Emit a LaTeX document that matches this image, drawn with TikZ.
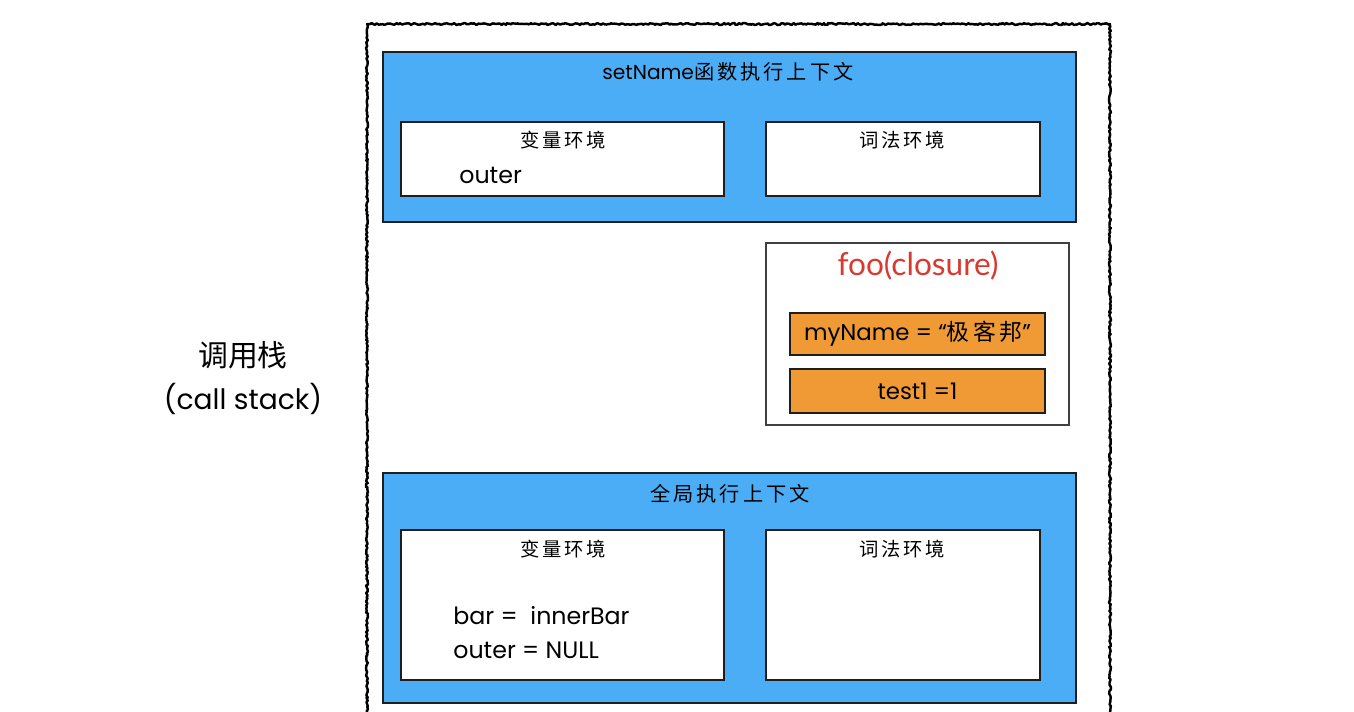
\documentclass[tikz,border=0pt]{standalone}
\usepackage{fontspec}
\setmainfont{Poppins}
\newfontfamily\cjk[LetterSpace=15]{Noto Sans CJK SC}
\newfontfamily\cjkplain{Noto Sans CJK SC}
\newfontfamily\closurefont{Lato}
\usetikzlibrary{decorations.pathmorphing}

\definecolor{ctxblue}{HTML}{4BADF6}
\definecolor{varorange}{HTML}{F09A35}
\definecolor{linegray}{HTML}{1E1E1E}
\definecolor{closurered}{HTML}{D93A30}

\tikzset{
  ctxbox/.style={draw=linegray, line width=1pt, fill=ctxblue, inner sep=0pt},
  envbox/.style={draw=linegray, line width=1pt, fill=white, inner sep=0pt},
  varbox/.style={draw=linegray, line width=1pt, fill=varorange, inner sep=0pt,
    font=\fontsize{13}{15}\selectfont},
  closurebox/.style={draw=linegray!85, line width=0.7pt, fill=white, inner sep=0pt},
  ctxtitle/.style={font=\fontsize{11.5}{14}\selectfont, inner sep=0pt},
  envtitle/.style={font=\fontsize{11}{13}\selectfont\cjk, inner sep=0pt},
  vartext/.style={font=\fontsize{13.5}{16}\selectfont, inner sep=0pt, anchor=west},
  stackline/.style={draw=black, line width=1.4pt, line join=round, decorate,
    decoration={random steps, segment length=1pt, amplitude=0.55pt}}
}

\begin{document}
\begin{tikzpicture}[x=0.02cm, y=-0.02cm]
  \clip (0,0) rectangle (1354,712);
  \fill[white] (0,0) rectangle (1354,712);

  % call stack frame
  \draw[stackline] (367,24) rectangle (1110,740);
  \node[font=\fontsize{17}{20}\selectfont\cjkplain] (stackcn) at (243,355) {调用栈};
  \node[font=\fontsize{16}{19}\selectfont] (stacken) at (243,399) {(call stack)};

  % setName execution context
  \node[ctxbox, minimum width=13.86cm, minimum height=3.4cm] (setctx) at (729.5,137) {};
  \node[ctxtitle] (settitle) at (728,72) {setName{\cjk 函数执行上下文}};
  \node[envbox, minimum width=6.46cm, minimum height=1.48cm] (setvar) at (562.5,159) {};
  \node[envtitle] (setvartitle) at (563,140) {变量环境};
  \node[vartext] (setouter) at (459,175) {outer};
  \node[envbox, minimum width=5.48cm, minimum height=1.48cm] (setlex) at (903,159) {};
  \node[envtitle] (setlextitle) at (902,140) {词法环境};

  % closure of foo
  \node[closurebox, minimum width=6.06cm, minimum height=3.64cm] (closure) at (917.5,334) {};
  \node[font=\fontsize{18}{21}\selectfont\closurefont, text=closurered, inner sep=0pt]
    (closuretitle) at (918,266) {foo(closure)};
  \node[varbox, minimum width=5.1cm, minimum height=0.84cm] (myname) at (917.5,334)
    {myName = “{\cjk 极客邦}”};
  \node[varbox, minimum width=5.1cm, minimum height=0.88cm] (testone) at (917.5,391)
    {test1 =1};

  % global execution context
  \node[ctxbox, minimum width=13.86cm, minimum height=4.6cm] (globctx) at (729.5,588) {};
  \node[ctxtitle, font=\fontsize{11.5}{14}\selectfont\cjk] (globtitle) at (730,494) {全局执行上下文};
  \node[envbox, minimum width=6.46cm, minimum height=3cm] (globvar) at (562.5,605) {};
  \node[envtitle] (globvartitle) at (563,549) {变量环境};
  \node[vartext] (globbar) at (453,616) {bar = \ innerBar};
  \node[vartext] (globouter) at (453,650) {outer = NULL};
  \node[envbox, minimum width=5.48cm, minimum height=3cm] (globlex) at (903,605) {};
  \node[envtitle] (globlextitle) at (902,549) {词法环境};
\end{tikzpicture}
\end{document}
